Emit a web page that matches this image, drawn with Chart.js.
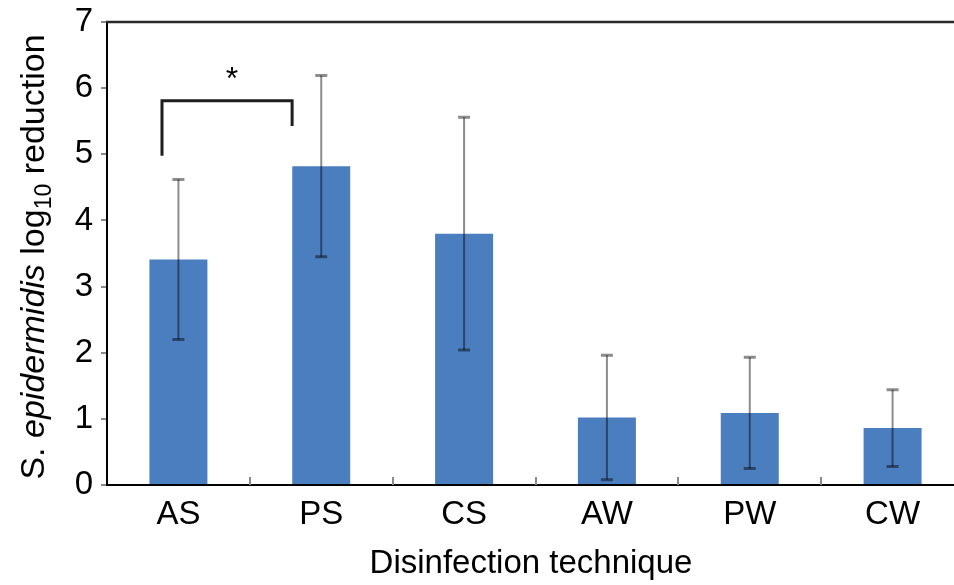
<!DOCTYPE html>
<html>
<head>
<meta charset="utf-8">
<script src="https://cdn.jsdelivr.net/npm/chart.js@4/dist/chart.umd.min.js"></script>
<style>
  html, body { margin: 0; padding: 0; background: #fff; overflow: hidden; width: 954px; height: 585px; }
  #wrap { position: absolute; left: 0; top: 0; width: 970px; height: 585px; }
</style>
</head>
<body>
<div id="wrap"><canvas id="c" width="970" height="585"></canvas></div>
<script>
// ---- data ----
const categories = ['AS', 'PS', 'CS', 'AW', 'PW', 'CW'];
const meanReduction = [3.41, 4.82, 3.80, 1.02, 1.09, 0.86];
const sdReduction = [1.21, 1.37, 1.76, 0.94, 0.84, 0.58];
const yTicks = [0, 1, 2, 3, 4, 5, 6, 7];
const xTitle = 'Disinfection technique';
const yTitleParts = [
  { text: 'S. ', style: 'normal' },
  { text: 'epidermidis', style: 'italic' },
  { text: ' log', style: 'normal' },
  { text: '10', style: 'sub' },
  { text: ' reduction', style: 'normal' }
];
// significance bracket between AS and PS (values on y scale)
const bracketFrom = 0, bracketTo = 1;
const bracketLeftBottom = 5.0, bracketRightBottom = 5.45, bracketTop = 5.81;
const bracketLabel = '*';

const FONT = '"Liberation Sans", Arial, Helvetica, sans-serif';

const extrasPlugin = {
  id: 'extras',
  afterDatasetsDraw(chart) {
    const ctx = chart.ctx;
    const xs = chart.scales.x, ys = chart.scales.y;
    const area = chart.chartArea;
    ctx.save();
    // error bars
    ctx.strokeStyle = 'rgba(0,0,0,0.45)';
    meanReduction.forEach((m, i) => {
      const x = xs.getPixelForValue(i);
      const yt = ys.getPixelForValue(m + sdReduction[i]);
      const yb = ys.getPixelForValue(m - sdReduction[i]);
      ctx.lineWidth = 2;
      ctx.beginPath();
      ctx.moveTo(x, yt); ctx.lineTo(x, yb);
      ctx.stroke();
      ctx.lineWidth = 3;
      ctx.beginPath();
      ctx.moveTo(x - 6, yt); ctx.lineTo(x + 6, yt);
      ctx.moveTo(x - 6, yb); ctx.lineTo(x + 6, yb);
      ctx.stroke();
    });
    // top frame line
    ctx.strokeStyle = '#2a2a2a';
    ctx.lineWidth = 2.5;
    ctx.beginPath();
    ctx.moveTo(area.left - 1, area.top);
    ctx.lineTo(chart.width, area.top);
    ctx.stroke();
    // inner tick marks between categories on x axis
    ctx.strokeStyle = '#8a8a8a';
    ctx.lineWidth = 2;
    for (let i = 1; i <= categories.length; i++) {
      const x = Math.round(xs.getPixelForValue(i - 0.5));
      ctx.beginPath();
      ctx.moveTo(x, area.bottom);
      ctx.lineTo(x, area.bottom - 8);
      ctx.stroke();
    }
    // significance bracket
    const xl = xs.getPixelForValue(bracketFrom - 0.115);
    const xr = xs.getPixelForValue(bracketTo - 0.204);
    ctx.strokeStyle = '#1e1e1e';
    ctx.lineWidth = 3;
    ctx.lineCap = 'square';
    ctx.beginPath();
    ctx.moveTo(xl, ys.getPixelForValue(bracketLeftBottom));
    ctx.lineTo(xl, ys.getPixelForValue(bracketTop));
    ctx.lineTo(xr, ys.getPixelForValue(bracketTop));
    ctx.lineTo(xr, ys.getPixelForValue(bracketRightBottom));
    ctx.stroke();
    ctx.fillStyle = '#000';
    ctx.font = '32px ' + FONT;
    ctx.textAlign = 'center';
    ctx.textBaseline = 'alphabetic';
    ctx.fillText(bracketLabel, xs.getPixelForValue(0.375), ys.getPixelForValue(bracketTop) - 12);
    // x title
    ctx.font = '33px ' + FONT;
    ctx.textAlign = 'center';
    ctx.textBaseline = 'alphabetic';
    ctx.fillText(xTitle, 531, 573);
    // y title (rotated, rich text)
    const fontFor = p => p.style === 'italic' ? 'italic 34px ' + FONT : (p.style === 'sub' ? '23px ' + FONT : '34px ' + FONT);
    let total = 0;
    const widths = yTitleParts.map(p => { ctx.font = fontFor(p); const w = ctx.measureText(p.text).width; total += w; return w; });
    ctx.translate(44, 257);
    ctx.rotate(-Math.PI / 2);
    ctx.textAlign = 'left';
    let cx = -total / 2;
    yTitleParts.forEach((p, i) => {
      ctx.font = fontFor(p);
      ctx.fillText(p.text, cx, p.style === 'sub' ? 7 : 0);
      cx += widths[i];
    });
    ctx.restore();
  }
};

new Chart(document.getElementById('c'), {
  type: 'bar',
  data: {
    labels: categories,
    datasets: [{
      data: meanReduction,
      backgroundColor: '#4a7ebf',
      borderWidth: 0,
      barPercentage: 0.406,
      categoryPercentage: 1.0
    }]
  },
  options: {
    responsive: false,
    animation: false,
    devicePixelRatio: 1,
    layout: { padding: { left: 0, right: 6, top: 22, bottom: 0 } },
    plugins: { legend: { display: false }, tooltip: { enabled: false }, title: { display: false } },
    scales: {
      x: {
        type: 'category',
        offset: true,
        grid: { display: false, drawTicks: false },
        border: { display: true, color: '#000', width: 2 },
        ticks: { color: '#000', font: { family: FONT, size: 33 }, padding: 10, maxRotation: 0, autoSkip: false },
        afterFit(s) { s.height = 100; s.paddingLeft = 0; s.paddingRight = 0; }
      },
      y: {
        min: 0, max: 7,
        afterBuildTicks(s) { s.ticks = yTicks.map(v => ({ value: v })); },
        grid: { drawOnChartArea: false, drawTicks: true, tickLength: 6, color: '#8a8a8a', lineWidth: 2 },
        border: { display: true, color: '#000', width: 2 },
        ticks: { color: '#000', font: { family: FONT, size: 33 }, padding: 8 },
        afterFit(s) { s.width = 107; s.paddingTop = 0; s.paddingBottom = 0; }
      }
    }
  },
  plugins: [extrasPlugin]
});
</script>
</body>
</html>
